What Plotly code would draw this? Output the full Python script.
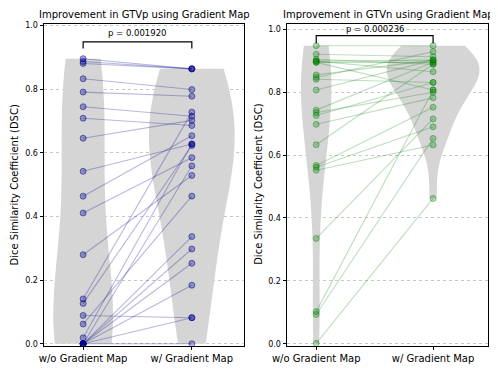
import numpy as np
import plotly.graph_objects as go

# ---------------- data ----------------
categories = ["w/o Gradient Map", "w/ Gradient Map"]

gtvp_without = [0.896, 0.887, 0.881, 0.833, 0.791, 0.745, 0.709, 0.646, 0.542, 0.464,
                0.411, 0.280, 0.141, 0.127, 0.089, 0.062, 0.019,
                0.0, 0.0, 0.0, 0.0, 0.0, 0.0, 0.0]
gtvp_with = [0.864, 0.864, 0.864, 0.799, 0.778, 0.715, 0.686, 0.702, 0.628, 0.654,
             0.585, 0.529, 0.728, 0.623, 0.082, 0.464, 0.628,
             0.559, 0.337, 0.298, 0.253, 0.184, 0.082, 0.0]

gtvn_without = [0.948, 0.921, 0.905, 0.899, 0.899, 0.895, 0.895, 0.855, 0.847, 0.841,
                0.807, 0.743, 0.735, 0.726, 0.698, 0.633, 0.567, 0.561, 0.552, 0.335,
                0.102, 0.093, 0.001]
gtvn_with = [0.948, 0.913, 0.889, 0.902, 0.865, 0.895, 0.807, 0.902, 0.929, 0.831,
             0.902, 0.895, 0.800, 0.831, 0.782, 0.889, 0.752, 0.690, 0.632, 0.715,
             0.807, 0.653, 0.462]

titles = ["Improvement in GTVp using Gradient Map", "Improvement in GTVn using Gradient Map"]
p_values = ["p = 0.001920", "p = 0.000236"]
y_ticks = [0.0, 0.2, 0.4, 0.6, 0.8, 1.0]

# ---------------- styling ----------------
FONT = "DejaVu Sans"
PAGE_W, PAGE_H = 498, 374
OFF = 8  # default body margin of the html page
W, H = PAGE_W - OFF, PAGE_H - OFF


def fx(px):
    return (px - OFF) / W


def fy(py):
    return 1 - (py - OFF) / H


panels = [
    dict(a=gtvp_without, b=gtvp_with, xdom=[fx(44), fx(244)], xr=[-0.36, 1.48], yr=[-0.006, 1.005],
         mk="rgba(0,0,139,0.33)", mke="rgba(0,0,139,0.5)", ln="rgba(0,0,139,0.28)",
         vw=[0.55, 0.79], bwf=[1.3, 1.55], br=[0.928, 0.949], pt=0.977, title_x=144, ylab_x=14.7),
    dict(a=gtvn_without, b=gtvn_with, xdom=[fx(287), fx(488)], xr=[-0.25, 1.47], yr=[-0.0064, 1.017],
         mk="rgba(0,128,0,0.28)", mke="rgba(0,128,0,0.42)", ln="rgba(0,128,0,0.26)",
         vw=[0.26, 0.79], bwf=[1.1, 1.1], br=[0.956, 0.98], pt=1.0, title_x=388, ylab_x=259),
]
ydom = [fy(345.7), fy(24)]

fig = go.Figure()
layout = dict(
    width=W, height=H, margin=dict(l=0, r=0, t=0, b=0, autoexpand=False),
    paper_bgcolor="white", plot_bgcolor="white", showlegend=False,
    violinmode="overlay", font=dict(family=FONT, color="black"),
    annotations=[],
)

for i, p in enumerate(panels):
    xa = "x" if i == 0 else "x2"
    ya = "y" if i == 0 else "y2"
    # violins
    for pos, vals, wdt, f in [(0, p["a"], p["vw"][0], p["bwf"][0]), (1, p["b"], p["vw"][1], p["bwf"][1])]:
        v = np.asarray(vals, dtype=float)
        bw = f * np.std(v, ddof=1) * len(v) ** (-0.2)
        fig.add_trace(go.Violin(
            x=[pos] * len(v), y=v, xaxis=xa, yaxis=ya,
            width=wdt, bandwidth=bw, spanmode="hard", points=False,
            fillcolor="#d5d5d5", line=dict(color="#d5d5d5", width=0),
            box_visible=False, meanline_visible=False, hoverinfo="skip",
            scalemode="width", opacity=1,
        ))
    # paired lines
    lx, ly = [], []
    for a, b in zip(p["a"], p["b"]):
        lx += [0, 1, None]
        ly += [a, b, None]
    fig.add_trace(go.Scatter(x=lx, y=ly, mode="lines", xaxis=xa, yaxis=ya,
                             line=dict(color=p["ln"], width=1.1), hoverinfo="skip"))
    # points
    fig.add_trace(go.Scatter(
        x=[0] * len(p["a"]) + [1] * len(p["b"]), y=list(p["a"]) + list(p["b"]),
        mode="markers", xaxis=xa, yaxis=ya,
        marker=dict(size=6, color=p["mk"], line=dict(color=p["mke"], width=1)),
        hoverinfo="skip"))
    # bracket
    fig.add_trace(go.Scatter(
        x=[0, 0, 1, 1], y=[p["br"][0], p["br"][1], p["br"][1], p["br"][0]],
        mode="lines", xaxis=xa, yaxis=ya, line=dict(color="black", width=1.2),
        hoverinfo="skip"))
    layout["annotations"].append(dict(
        x=0.5, y=p["pt"], xref=xa, yref=ya, text=p_values[i], showarrow=False,
        font=dict(size=8.5, family=FONT), xanchor="center", yanchor="middle"))
    # titles
    layout["annotations"].append(dict(
        x=fx(p["title_x"]), y=fy(14), xref="paper", yref="paper", text=titles[i],
        showarrow=False, font=dict(size=10, family=FONT), xanchor="center", yanchor="middle"))
    layout["annotations"].append(dict(
        x=fx(p["ylab_x"]), y=(ydom[0] + ydom[1]) / 2, xref="paper", yref="paper",
        text="Dice Similarity Coefficient (DSC)", textangle=-90, showarrow=False,
        font=dict(size=10, family=FONT), xanchor="center", yanchor="middle"))

    axx = dict(domain=p["xdom"], range=p["xr"], tickmode="array", tickvals=[0, 1],
               ticktext=categories, showgrid=False, zeroline=False, showline=True,
               linecolor="black", linewidth=1, mirror=True, ticks="outside", ticklen=3.5,
               tickcolor="black", tickfont=dict(size=10, family=FONT), anchor=ya,
               automargin=False)
    axy = dict(domain=ydom, range=p["yr"], tickmode="array", tickvals=y_ticks,
               ticktext=[f"{t:.1f}" for t in y_ticks], showgrid=True, gridcolor="#c8c8c8",
               griddash="dot", gridwidth=0.8, zeroline=False, showline=True,
               linecolor="black", linewidth=1, mirror=True, ticks="outside", ticklen=3.5,
               tickcolor="black", tickfont=dict(size=8, family=FONT), anchor=xa,
               automargin=False)
    if i == 0:
        layout["xaxis"] = axx
        layout["yaxis"] = axy
    else:
        layout["xaxis2"] = axx
        layout["yaxis2"] = axy

fig.update_layout(**layout)
fig.write_html("out.html")
